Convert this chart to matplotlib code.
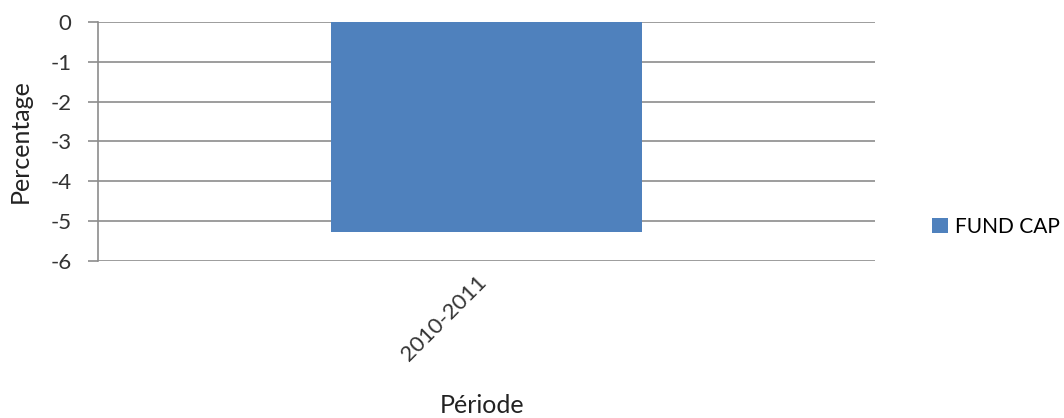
import matplotlib.pyplot as plt
from matplotlib.transforms import ScaledTranslation

# Données
periodes = ['2010-2011']
fund_cap = [-5.27]
yticks = [0, -1, -2, -3, -4, -5, -6]

plt.rcParams['font.family'] = ['Lato', 'DejaVu Sans']

fig = plt.figure(figsize=(10.64, 4.18), dpi=100)
ax = fig.add_axes([0.0921, 0.3756, 0.7300, 0.5718])

ax.bar(range(len(periodes)), fund_cap, width=0.4, color='#4f81bd',
       label='FUND CAP', zorder=3)

ax.set_xlim(-0.5, 0.5)
ax.set_ylim(-6, 0)
ax.set_yticks(yticks)
ax.set_yticklabels([str(v) for v in yticks], fontsize=16, color='#333333')
ax.set_xticks(range(len(periodes)))
ax.set_xticklabels(periodes, rotation=45, ha='right', rotation_mode='anchor',
                   fontsize=16, color='#333333')

ax.grid(True, axis='y', color='#8c8c8c', linewidth=1.2, zorder=0)
for s in ['top', 'right', 'bottom']:
    ax.spines[s].set_visible(False)
ax.spines['left'].set_color('#8c8c8c')
ax.spines['left'].set_linewidth(1.2)
ax.tick_params(axis='y', length=7, color='#8c8c8c', width=1.2, pad=12)
ax.tick_params(axis='x', length=0, pad=8)

# décaler un peu l'étiquette vers la gauche (après tick_params, sinon écrasé)
decalage = ScaledTranslation(-10 / 100, 0, fig.dpi_scale_trans)
for lbl in ax.get_xticklabels():
    lbl.set_transform(lbl.get_transform() + decalage)

ax.set_ylabel('Percentage', fontsize=18, color='#222222', va='center')
ax.yaxis.set_label_coords(-0.1004, 0.5)
ax.set_xlabel('Période', fontsize=18, color='#222222', va='center')
ax.xaxis.set_label_coords(0.494, -0.6025)

fig.legend(loc='center left', bbox_to_anchor=(0.8665, 0.457), frameon=False,
           fontsize=15, borderpad=0, handlelength=0.76, handleheight=0.76,
           handletextpad=0.33)

plt.savefig('out.png', dpi=100)
